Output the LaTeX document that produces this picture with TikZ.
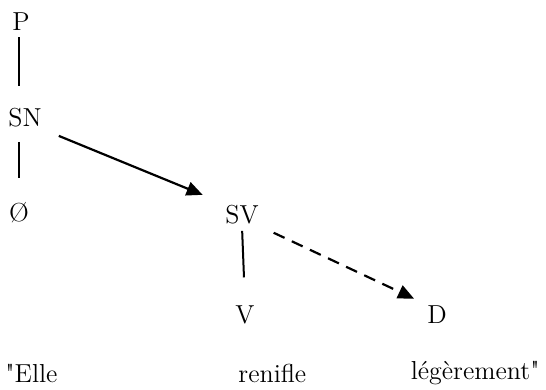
\documentclass[tikz,border=0pt]{standalone}
\usetikzlibrary{arrows.meta}
\begin{document}
\begin{tikzpicture}[x=0.5pt, y=-0.5pt, every node/.style={font=\fontsize{13}{15}\selectfont, inner sep=1pt},
  branch/.style={line width=1pt},
  link/.style={line width=1.1pt, -{Triangle[length=8pt,width=7pt]}},
  dashlink/.style={link, dash pattern=on 6pt off 4pt}]
\useasboundingbox (0,0) rectangle (546,390);
\node (p) at (21,22) {P};
\node (sn) at (25,118) {SN};
\node (zero) at (19,213) {\O};
\node (sv) at (242,215) {SV};
\node (v) at (245,315) {V};
\node (d) at (437,315) {D};
\node[anchor=west] (elle) at (3,373) {\textquotedbl Elle};
\node[anchor=west] (renifle) at (236,373) {renifle};
\node[anchor=east] (leg) at (542,373) {légèrement\textquotedbl};
\draw[branch,shorten <=2pt,shorten >=10pt] ([xshift=-1pt]p.south) -- ([xshift=-1pt]p.south |- sn.north);
\draw[branch,shorten <=6pt,shorten >=11pt] ([xshift=-3pt]sn.south) -- ([xshift=-3pt]sn.south |- zero.north);
\draw[link,shorten <=8pt,shorten >=11pt] (sn.south east) -- (sv.north west);
\draw[branch,shorten <=2pt,shorten >=13pt] (sv.south) -- (v.north);
\draw[dashlink,shorten <=7pt,shorten >=6pt] (sv.south east) -- (d.north west);
\end{tikzpicture}
\end{document}
